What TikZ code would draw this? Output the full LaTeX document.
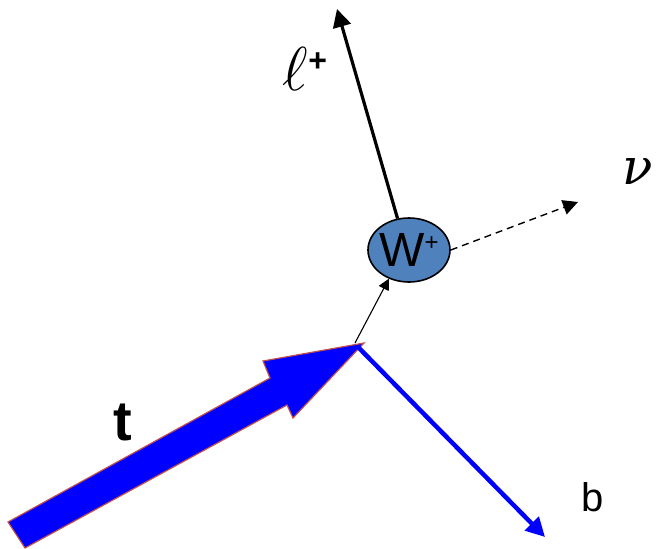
\RequirePackage{fix-cm}
\documentclass[tikz,border=0pt]{standalone}
\usepackage{fontspec}
\setmainfont{Liberation Sans}
\newfontfamily\symf{DejaVu Serif}
\usetikzlibrary{arrows.meta,shapes.geometric}
\definecolor{wblue}{HTML}{4F81BD}
\definecolor{tedge}{HTML}{C0504D}
\begin{document}
\begin{tikzpicture}[x=1pt,y=-1pt,
  lbl/.style={inner sep=0pt,anchor=center},
  arr/.style={-{Triangle[length=#1,width=#1]}}]
\useasboundingbox (0,0) rectangle (657,549);
% big t arrow
\draw[fill=blue,draw=tedge,line width=1.2pt,line join=miter]
  (8,522) -- (270,378) -- (263,361) -- (364,343) -- (293,418) -- (287,405) -- (25,548) -- cycle;
\node[lbl] (tl) at (123,422) {\fontsize{56}{60}\selectfont\bfseries t};
% vertex and W
\coordinate (v) at (355,343);
\node[ellipse,draw=black,line width=1.6pt,fill=wblue,minimum width=82pt,minimum height=64pt,inner sep=0pt] (W) at (409,250) {};
\node[lbl] (wl) at (W.center) {\fontsize{48}{50}\selectfont W\raisebox{16pt}{\fontsize{24}{26}\selectfont +}};
% small arrow t -> W
\draw[arr=11pt,line width=1.1pt] (v) -- (W.235);
% lepton
\coordinate (ltip) at (337,9);
\draw[arr=18pt,line width=3.2pt] (W.110) -- (ltip);
\node[lbl] (lep) at (305,69) {\fontsize{62}{66}\selectfont $\ell$\raisebox{19pt}{\fontsize{32}{34}\selectfont\bfseries +}};
% neutrino
\coordinate (ntip) at (578,202);
\draw[arr=15pt,line width=1.4pt,dash pattern=on 7pt off 5pt] (W.east) -- (ntip);
\node[lbl] (nu) at (638,172) {\fontsize{50}{54}\selectfont\symf\itshape ν};
% b quark
\coordinate (btip) at (545,537);
\draw[blue,arr=19pt,line width=4.5pt] (358,347) -- (btip);
\node[lbl] (bl) at (593,497) {\fontsize{40}{44}\selectfont b};
\end{tikzpicture}
\end{document}
